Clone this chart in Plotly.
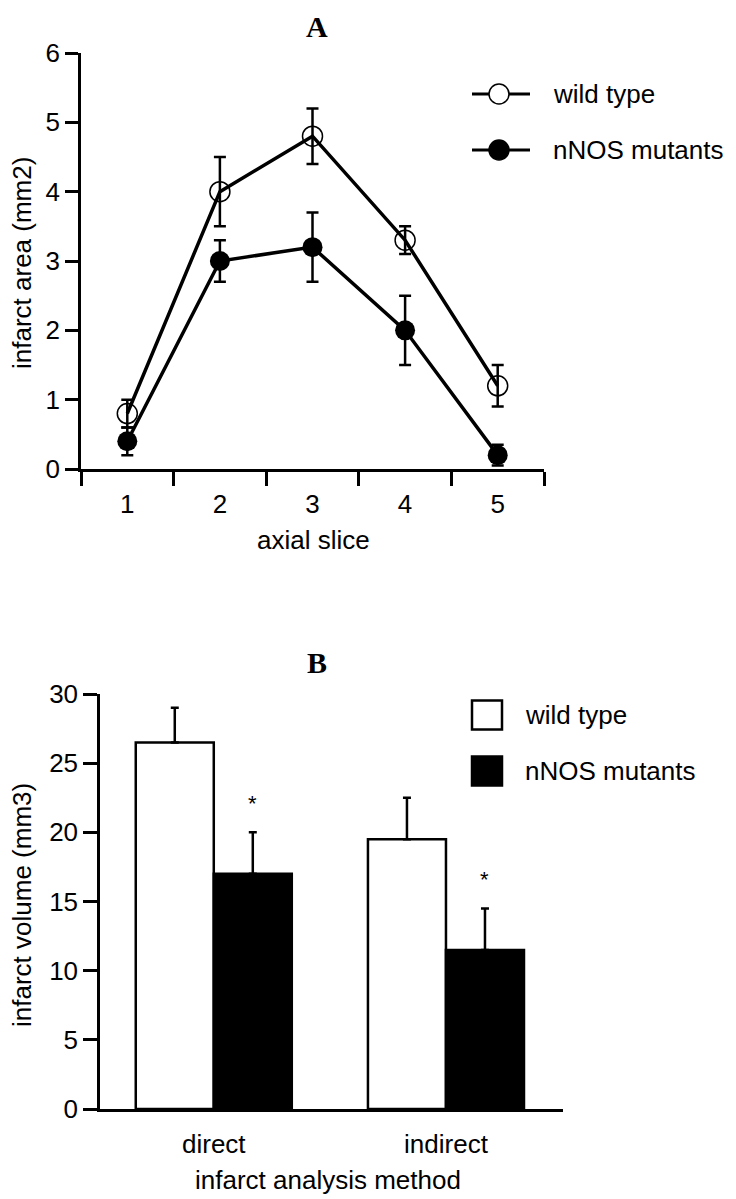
import plotly.graph_objects as go

# ---- Panel A data ----
slices = [1, 2, 3, 4, 5]
wt_area = [0.8, 4.0, 4.8, 3.3, 1.2]
wt_area_err = [0.2, 0.5, 0.4, 0.2, 0.3]
mut_area = [0.4, 3.0, 3.2, 2.0, 0.2]
mut_area_err = [0.2, 0.3, 0.5, 0.5, 0.15]

# ---- Panel B data ----
methods = ["direct", "indirect"]
wt_vol = [26.5, 19.5]
wt_vol_err = [2.5, 3.0]
mut_vol = [17.0, 11.5]
mut_vol_err = [3.0, 3.0]

series_names = ["wild type", "nNOS mutants"]

# page body has an 8px margin; figure is sized/positioned to compensate
OX, OY = 8, 8
W, H = 728, 1191
FONT = "Liberation Sans"
FS = 26


def px(x):
    return (x - OX) / W


def py(y):
    return 1 - (y - OY) / H


fig = go.Figure()

# Panel A traces
fig.add_trace(go.Scatter(
    x=slices, y=mut_area, mode="lines+markers", name=series_names[1],
    line=dict(color="black", width=3.5),
    marker=dict(symbol="circle", size=20, color="black"),
    error_y=dict(type="data", array=mut_area_err, color="black", thickness=2.5, width=6),
    xaxis="x", yaxis="y", showlegend=False,
))
fig.add_trace(go.Scatter(
    x=slices, y=wt_area, mode="lines+markers", name=series_names[0],
    line=dict(color="black", width=3.5),
    marker=dict(symbol="circle-open", size=20, color="black", line=dict(width=1.5)),
    error_y=dict(type="data", array=wt_area_err, color="black", thickness=2.5, width=6),
    xaxis="x", yaxis="y", showlegend=False,
))

# Panel B traces
xpos = list(range(len(methods)))
fig.add_trace(go.Bar(
    x=xpos, y=wt_vol, name=series_names[0],
    marker=dict(color="white", line=dict(color="black", width=2.5)),
    error_y=dict(type="data", array=wt_vol_err, arrayminus=[0] * len(wt_vol),
                 symmetric=False, color="black", thickness=2.5, width=4),
    xaxis="x2", yaxis="y2", showlegend=False,
))
fig.add_trace(go.Bar(
    x=xpos, y=mut_vol, name=series_names[1],
    marker=dict(color="black", line=dict(color="black", width=2.5)),
    error_y=dict(type="data", array=mut_vol_err, arrayminus=[0] * len(mut_vol),
                 symmetric=False, color="black", thickness=2.5, width=4),
    xaxis="x2", yaxis="y2", showlegend=False,
))

bargap = 0.328
axis_common = dict(
    showline=True, linecolor="black", linewidth=2.5, showgrid=False, zeroline=False,
    tickfont=dict(family=FONT, size=FS, color="black"), automargin=False,
)

fig.update_layout(
    width=W, height=H,
    margin=dict(l=0, r=0, t=0, b=0),
    paper_bgcolor="white", plot_bgcolor="white",
    barmode="group", bargap=bargap, bargroupgap=0,
    xaxis=dict(
        domain=[px(81), px(544)], range=[0.5, 5.5], anchor="y",
        tickvals=slices, ticktext=[str(s) for s in slices],
        ticks="outside", ticklen=10, tickcolor="rgba(0,0,0,0)",
        minor=dict(tick0=0.5, dtick=1, ticks="outside", ticklen=14, tickwidth=2.5,
                   tickcolor="black", showgrid=False),
        **axis_common,
    ),
    yaxis=dict(
        domain=[py(469), py(53)], range=[0, 6], anchor="x",
        tickvals=[0, 1, 2, 3, 4, 5, 6],
        ticks="outside", ticklen=13, tickwidth=2.5, tickcolor="black",
        **axis_common,
    ),
    xaxis2=dict(
        domain=[px(100), px(563)], range=[-0.49, 1.504], anchor="y2",
        tickvals=xpos, ticktext=methods,
        ticks="outside", ticklen=10, tickcolor="rgba(0,0,0,0)",
        **axis_common,
    ),
    yaxis2=dict(
        domain=[py(1109), py(694)], range=[0, 30], anchor="x2",
        tickvals=[0, 5, 10, 15, 20, 25, 30],
        ticks="outside", ticklen=14, tickwidth=2.5, tickcolor="black",
        **axis_common,
    ),
)


def label(text, x, y, size=FS, family=FONT, angle=0, xanchor="center"):
    return dict(text=text, x=px(x), y=py(y), xref="paper", yref="paper",
                xanchor=xanchor, yanchor="middle", textangle=angle, showarrow=False,
                font=dict(family=family, size=size, color="black"))


ann = []
# Panel titles
ann.append(label("<b>A</b>", 317, 26, size=30, family="Liberation Serif"))
ann.append(label("<b>B</b>", 317, 662, size=30, family="Liberation Serif"))
# Axis titles
ann.append(label("axial slice", 313, 540))
ann.append(label("infarct area (mm2)", 22, 263, angle=-90))
ann.append(label("infarct analysis method", 328, 1180))
ann.append(label("infarct volume (mm3)", 22, 905, angle=-90))

# Significance stars above mutant bars
offset = (1 - bargap) / 4
for i in xpos:
    ann.append(dict(text="*", x=i + offset, y=mut_vol[i] + mut_vol_err[i], xref="x2", yref="y2",
                    showarrow=False, xanchor="center", yanchor="middle", yshift=29,
                    font=dict(family="Liberation Sans", size=22, color="black")))

# Legend texts
legA_y = [94, 150]
legB_y = [715, 771]
for name, yy in zip(series_names, legA_y):
    ann.append(label(name, 551, yy, xanchor="left"))
for name, yy in zip(series_names, legB_y):
    ann.append(label(name, 523, yy, xanchor="left"))
fig.update_layout(annotations=ann)

# Legend symbols (drawn as layout shapes)
shapes = []
for k, yy in enumerate(legA_y):
    shapes.append(dict(type="line", xref="paper", yref="paper", x0=px(472), x1=px(530),
                       y0=py(yy), y1=py(yy), line=dict(color="black", width=3)))
    r = 10
    shapes.append(dict(type="circle", xref="paper", yref="paper",
                       x0=px(499 - r), x1=px(499 + r), y0=py(yy + r), y1=py(yy - r),
                       fillcolor="white" if k == 0 else "black",
                       line=dict(color="black", width=1.5)))
for k, yy in enumerate(legB_y):
    shapes.append(dict(type="rect", xref="paper", yref="paper",
                       x0=px(472), x1=px(502), y0=py(yy + 14.5), y1=py(yy - 14.5),
                       fillcolor="white" if k == 0 else "black",
                       line=dict(color="black", width=2.5)))
fig.update_layout(shapes=shapes)

fig.write_html("out.html")
